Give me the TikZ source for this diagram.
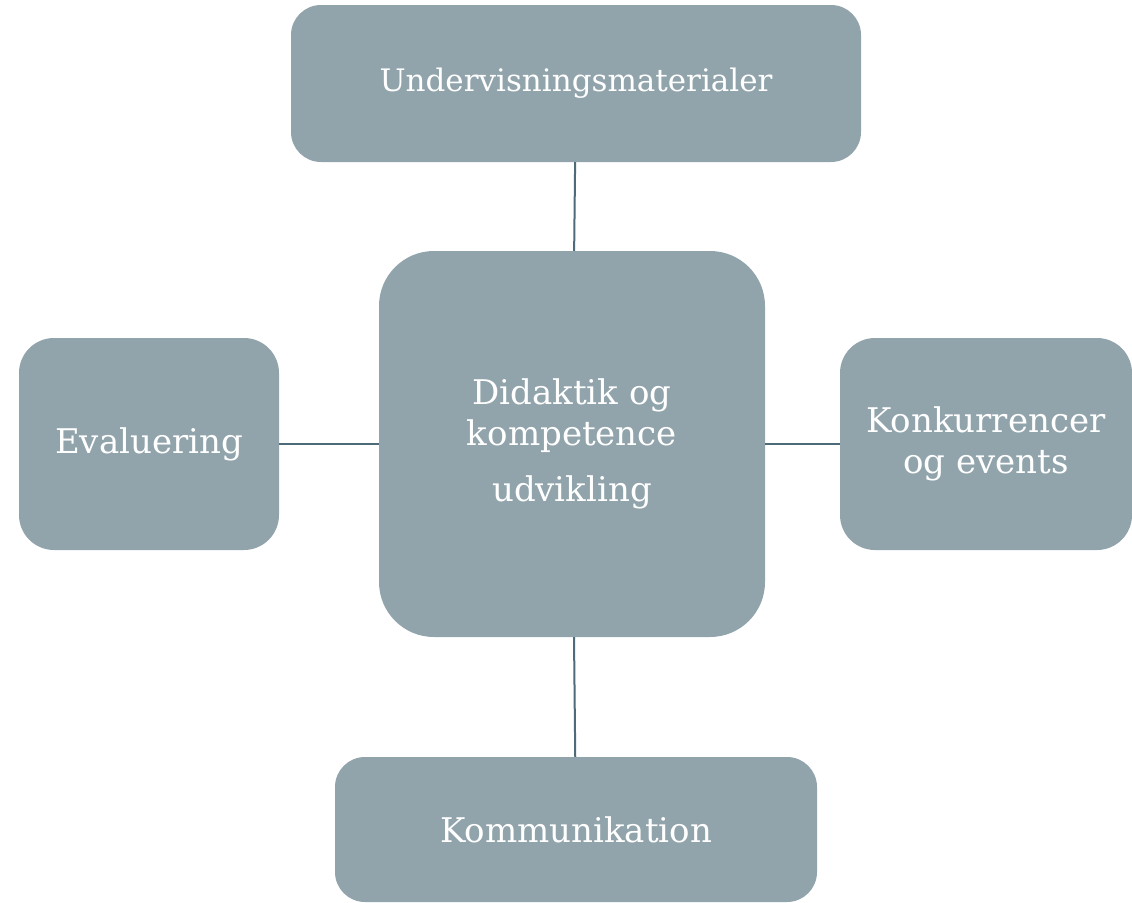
\documentclass[tikz,border=0pt]{standalone}
\usepackage{fontspec}
\setmainfont{DejaVu Serif}
\definecolor{boxfill}{HTML}{91A4AB}
\definecolor{linkcol}{HTML}{4E6B79}
\tikzset{
  box/.style={fill=boxfill, draw=none, inner sep=0pt, text=white, align=center,
    font=\fontsize{34}{41}\selectfont},
  link/.style={draw=linkcol, line width=2pt}
}
\begin{document}
\begin{tikzpicture}[x=1pt,y=-1pt]
\useasboundingbox (0,0) rectangle (1132,902);
\fill[white] (0,0) rectangle (1132,902);
\node[box, minimum width=570pt, minimum height=157pt, rounded corners=30pt, font=\fontsize{31}{40}\selectfont] (top) at (576,83.5) {Undervisningsmaterialer};
\node[box, minimum width=386pt, minimum height=386pt, rounded corners=55pt] (center) at (572,444) {Didaktik og\\kompetence\\[15pt]udvikling};
\node[box, minimum width=260pt, minimum height=212pt, rounded corners=35pt] (left) at (149,444) {Evaluering};
\node[box, minimum width=292pt, minimum height=212pt, rounded corners=35pt] (right) at (986,444) {Konkurrencer\\og events};
\node[box, minimum width=482pt, minimum height=145pt, rounded corners=30pt] (bottom) at (576,829.5) {Kommunikation};
\draw[link] (top) -- (center);
\draw[link] (center) -- (bottom);
\draw[link] (left) -- (center);
\draw[link] (center) -- (right);
\end{tikzpicture}
\end{document}
